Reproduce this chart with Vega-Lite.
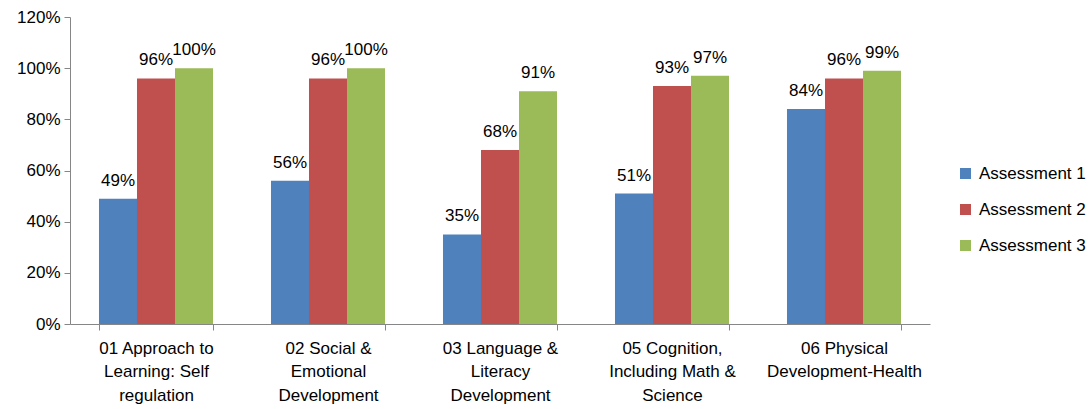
{
  "$schema": "https://vega.github.io/schema/vega-lite/v6.json",
  "autosize": {"type": "none"},
  "padding": {"left": 70, "top": 17, "right": 159, "bottom": 85},
  "width": 860,
  "height": 307,
  "config": {
    "font": "Liberation Sans",
    "view": {"stroke": null},
    "axis": {"grid": false, "domainColor": "#868686", "tickColor": "#868686", "labelColor": "#000000", "labelFont": "Liberation Sans"}
  },
  "data": {
    "values": [
      {"cat": "01 Approach to|Learning: Self|regulation", "series": "Assessment 1", "value": 0.49},
      {"cat": "01 Approach to|Learning: Self|regulation", "series": "Assessment 2", "value": 0.96},
      {"cat": "01 Approach to|Learning: Self|regulation", "series": "Assessment 3", "value": 1.00},
      {"cat": "02 Social &|Emotional|Development", "series": "Assessment 1", "value": 0.56},
      {"cat": "02 Social &|Emotional|Development", "series": "Assessment 2", "value": 0.96},
      {"cat": "02 Social &|Emotional|Development", "series": "Assessment 3", "value": 1.00},
      {"cat": "03 Language &|Literacy|Development", "series": "Assessment 1", "value": 0.35},
      {"cat": "03 Language &|Literacy|Development", "series": "Assessment 2", "value": 0.68},
      {"cat": "03 Language &|Literacy|Development", "series": "Assessment 3", "value": 0.91},
      {"cat": "05 Cognition,|Including Math &|Science", "series": "Assessment 1", "value": 0.51},
      {"cat": "05 Cognition,|Including Math &|Science", "series": "Assessment 2", "value": 0.93},
      {"cat": "05 Cognition,|Including Math &|Science", "series": "Assessment 3", "value": 0.97},
      {"cat": "06 Physical|Development-Health", "series": "Assessment 1", "value": 0.84},
      {"cat": "06 Physical|Development-Health", "series": "Assessment 2", "value": 0.96},
      {"cat": "06 Physical|Development-Health", "series": "Assessment 3", "value": 0.99}
    ]
  },
  "encoding": {
    "x": {
      "field": "cat", "type": "nominal", "sort": null,
      "scale": {"paddingInner": 0.337, "paddingOuter": 0.1685},
      "axis": {"title": null, "labelAngle": 0, "labelExpr": "split(datum.label, '|')", "labelFontSize": 17, "labelLineHeight": 23.5, "labelPadding": 10, "tickSize": 6, "tickBand": "extent", "labelLimit": 300}
    },
    "xOffset": {"field": "series", "type": "nominal", "scale": {"paddingInner": 0, "paddingOuter": 0}},
    "y": {
      "field": "value", "type": "quantitative",
      "scale": {"domain": [0, 1.2], "nice": false},
      "axis": {"title": null, "format": ".0%", "values": [0, 0.2, 0.4, 0.6, 0.8, 1.0, 1.2], "labelFontSize": 17, "tickSize": 6, "labelPadding": 4}
    }
  },
  "layer": [
    {
      "mark": {"type": "bar"},
      "encoding": {
        "color": {
          "field": "series", "type": "nominal",
          "scale": {"range": ["#4F81BD", "#C0504D", "#9BBB59"]},
          "legend": {"title": null, "orient": "none", "legendX": 887, "legendY": 148, "symbolType": "square", "symbolSize": 121, "symbolStrokeWidth": 0, "labelFontSize": 17, "labelOffset": 5, "rowPadding": 18, "labelColor": "#000000"}
        }
      }
    },
    {
      "mark": {"type": "text", "baseline": "alphabetic", "dy": -13, "fontSize": 17, "color": "#000000"},
      "encoding": {
        "text": {"field": "value", "type": "quantitative", "format": ".0%"}
      }
    }
  ]
}
